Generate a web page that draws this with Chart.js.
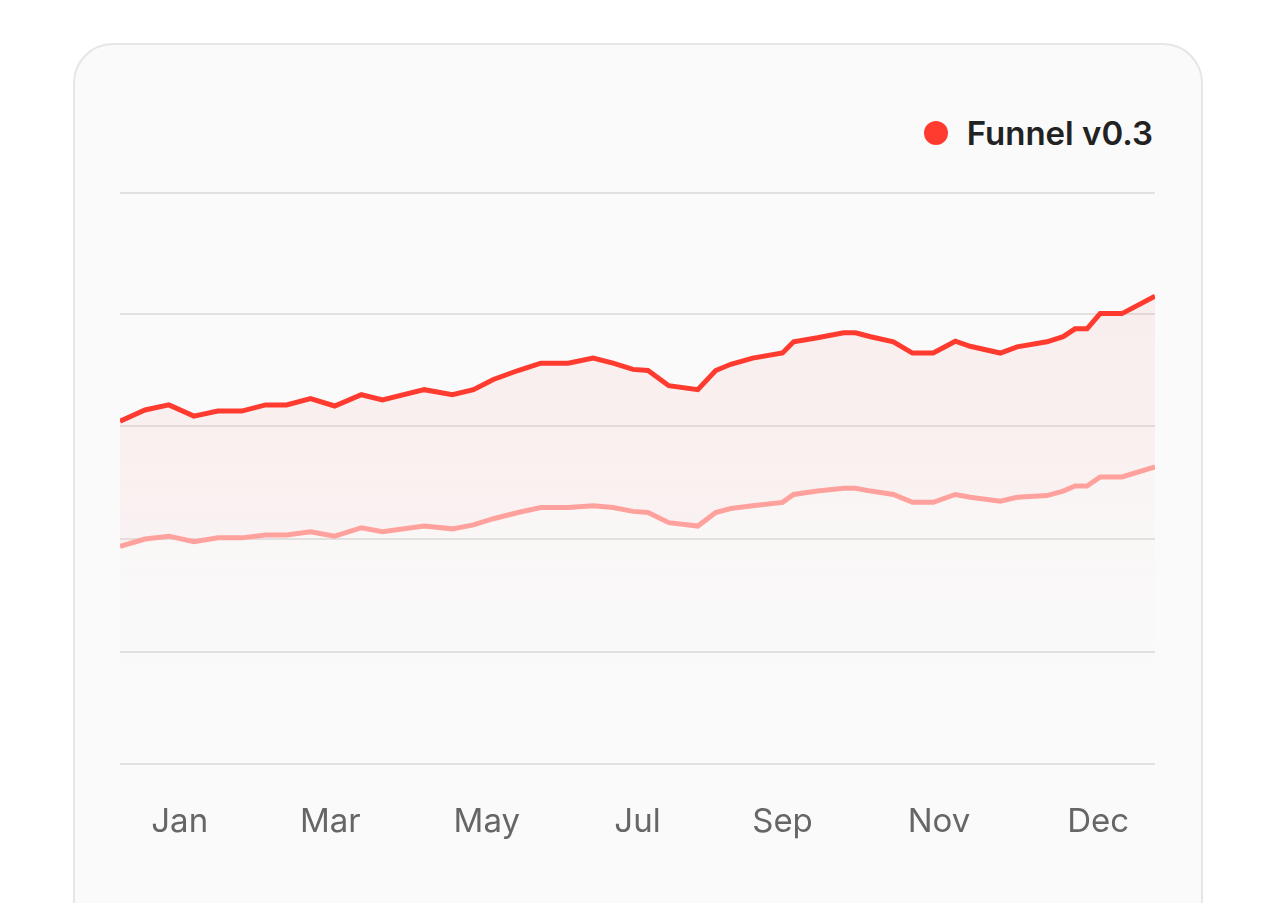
<!DOCTYPE html>
<html>
<head>
<meta charset="utf-8">
<script src="https://cdn.jsdelivr.net/npm/chart.js"></script>
<style>
  body { margin: 0; background: #ffffff; width: 1275px; height: 903px; overflow: hidden; font-family: Inter, "Noto Sans", sans-serif; }
  .card { position: absolute; left: 73px; top: 43px; width: 1126px; height: 900px; background: #fafafa; border: 2px solid #e6e6e6; border-radius: 40px; }
  .legend { position: absolute; right: 48px; top: 68px; display: flex; align-items: center; font-size: 33px; font-weight: 600; color: #222; }
  .legend .dot { width: 24px; height: 24px; border-radius: 50%; background: #ff3b30; margin-right: 19px; }
  .chart-wrap { position: absolute; left: 0; top: 135px; width: 1126px; height: 723px; }
</style>
</head>
<body>
<div class="card">
  <div class="legend"><span class="dot"></span>Funnel v0.3</div>
  <div class="chart-wrap"><canvas id="chart"></canvas></div>
</div>
<script>
// day of year for each point
const days = [0, 8.8, 17.2, 26, 34.4, 42.8, 51.2, 58.6, 67, 75.5, 84.9, 92.3, 107, 116.9, 124.3, 131.3,
  140, 148, 157.6, 166.4, 173.4, 180.4, 185.7, 193, 203.2, 209.5, 214.8, 222.5, 233, 236.9, 245.3, 254.5,
  258.7, 264, 272, 278.7, 286, 293.8, 299, 309.6, 315.5, 326, 331.7, 335.9, 340.1, 344.7, 352.4, 364];
const funnel = [60.9, 62.9, 63.8, 61.8, 62.7, 62.7, 63.8, 63.8, 64.9, 63.6, 65.6, 64.7, 66.5, 65.6, 66.5, 68.3,
  69.9, 71.2, 71.2, 72.1, 71.2, 70.1, 69.9, 67.2, 66.5, 69.9, 71.0, 72.1, 73.0, 75.0, 75.7, 76.6,
  76.6, 75.9, 75.0, 73.0, 73.0, 75.1, 74.2, 73.0, 74.1, 75.0, 75.9, 77.3, 77.3, 80.0, 80.0, 83.1];
const baseline = [38.7, 40.0, 40.5, 39.5, 40.2, 40.2, 40.7, 40.7, 41.3, 40.5, 42.0, 41.3, 42.3, 41.8, 42.5, 43.6,
  44.7, 45.6, 45.6, 45.9, 45.6, 44.9, 44.7, 42.9, 42.3, 44.7, 45.4, 45.9, 46.5, 47.9, 48.5, 49.0,
  49.0, 48.5, 47.9, 46.5, 46.5, 47.9, 47.4, 46.7, 47.4, 47.7, 48.5, 49.4, 49.4, 51.0, 51.0, 52.8];
const tickDays = [21, 74, 129, 182, 233, 288, 344];
const tickLabels = ['Jan', 'Mar', 'May', 'Jul', 'Sep', 'Nov', 'Dec'];

const pts = (arr) => arr.map((v, i) => ({ x: days[i], y: v }));

function grad(ctx, area, stops) {
  const g = ctx.createLinearGradient(0, area.top, 0, area.bottom);
  stops.forEach(s => g.addColorStop(s[0], s[1]));
  return g;
}

new Chart(document.getElementById('chart'), {
  type: 'line',
  data: {
    datasets: [
      {
        data: pts(funnel),
        borderColor: '#ff3b30',
        borderWidth: 5,
        pointRadius: 0,
        tension: 0,
        fill: '+1',
        backgroundColor: (c) => c.chart.chartArea ? grad(c.chart.ctx, c.chart.chartArea,
          [[0, 'rgba(240,120,120,0.10)'], [0.5, 'rgba(250,150,150,0.09)'], [1, 'rgba(255,200,200,0.05)']]) : 'transparent'
      },
      {
        data: pts(baseline),
        borderColor: '#ffa29d',
        borderWidth: 5,
        pointRadius: 0,
        tension: 0,
        fill: 'origin',
        backgroundColor: (c) => c.chart.chartArea ? grad(c.chart.ctx, c.chart.chartArea,
          [[0.5, 'rgba(255,180,180,0.07)'], [0.9, 'rgba(255,220,220,0.0)']]) : 'transparent'
      }
    ]
  },
  options: {
    responsive: true,
    maintainAspectRatio: false,
    animation: false,
    layout: { padding: { left: 45, right: 46, top: 13, bottom: 31 } },
    plugins: { legend: { display: false }, tooltip: { enabled: false } },
    scales: {
      x: {
        type: 'linear', min: 0, max: 364,
        afterBuildTicks: (axis) => { axis.ticks = tickDays.map(v => ({ value: v })); },
        ticks: {
          callback: (v) => tickLabels[tickDays.indexOf(v)],
          color: '#666', font: { family: 'Inter', size: 33 }, padding: 30, maxRotation: 0, autoSkip: false
        },
        grid: { display: false },
        border: { display: false }
      },
      y: {
        min: 0, max: 101.4,
        afterBuildTicks: (axis) => { axis.ticks = [0, 20, 40, 60, 80, 101.4].map(v => ({ value: v })); },
        ticks: { display: false },
        grid: { color: '#e3e0e0', lineWidth: 2, drawTicks: false },
        border: { display: false }
      }
    }
  }
});
</script>
</body>
</html>
